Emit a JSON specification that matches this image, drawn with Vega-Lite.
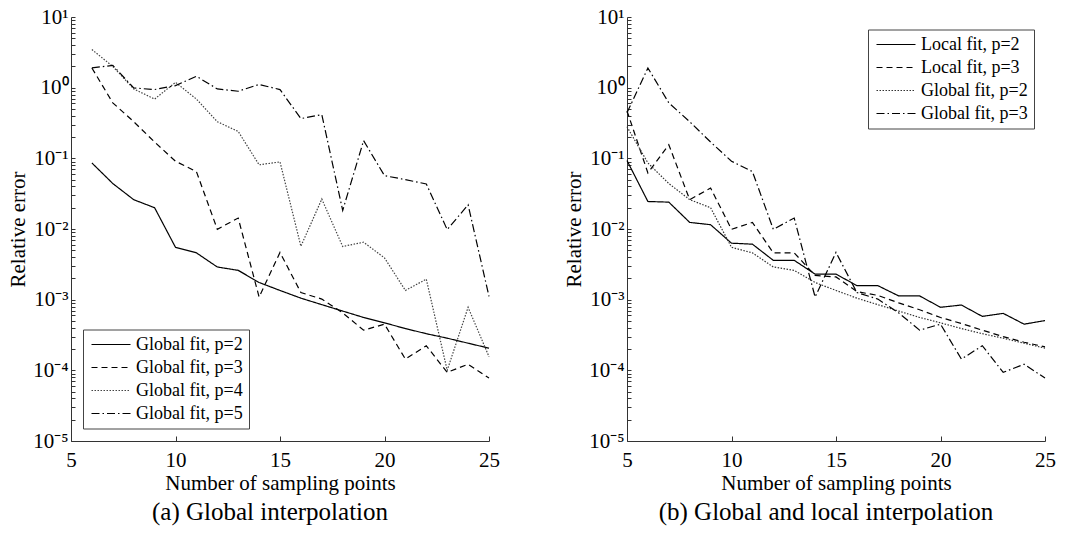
{
  "$schema": "https://vega.github.io/schema/vega-lite/v6.json",
  "background": "white",
  "padding": {"left": 7, "top": 6, "right": 5, "bottom": 5},
  "bounds": "flush",
  "spacing": 138,
  "datasets": {
    "a": [
      {"n": 6, "err": 0.086, "s": "Global fit, p=2"},
      {"n": 7, "err": 0.044, "s": "Global fit, p=2"},
      {"n": 8, "err": 0.026, "s": "Global fit, p=2"},
      {"n": 9, "err": 0.020, "s": "Global fit, p=2"},
      {"n": 10, "err": 0.0055, "s": "Global fit, p=2"},
      {"n": 11, "err": 0.0046, "s": "Global fit, p=2"},
      {"n": 12, "err": 0.0029, "s": "Global fit, p=2"},
      {"n": 13, "err": 0.0026, "s": "Global fit, p=2"},
      {"n": 14, "err": 0.00175, "s": "Global fit, p=2"},
      {"n": 15, "err": 0.00135, "s": "Global fit, p=2"},
      {"n": 16, "err": 0.00105, "s": "Global fit, p=2"},
      {"n": 17, "err": 0.00085, "s": "Global fit, p=2"},
      {"n": 18, "err": 0.00069, "s": "Global fit, p=2"},
      {"n": 19, "err": 0.00056, "s": "Global fit, p=2"},
      {"n": 20, "err": 0.00047, "s": "Global fit, p=2"},
      {"n": 21, "err": 0.00039, "s": "Global fit, p=2"},
      {"n": 22, "err": 0.00033, "s": "Global fit, p=2"},
      {"n": 23, "err": 0.000285, "s": "Global fit, p=2"},
      {"n": 24, "err": 0.000242, "s": "Global fit, p=2"},
      {"n": 25, "err": 0.000206, "s": "Global fit, p=2"},
      {"n": 6, "err": 1.9, "s": "Global fit, p=3"},
      {"n": 7, "err": 0.61, "s": "Global fit, p=3"},
      {"n": 8, "err": 0.33, "s": "Global fit, p=3"},
      {"n": 9, "err": 0.17, "s": "Global fit, p=3"},
      {"n": 10, "err": 0.091, "s": "Global fit, p=3"},
      {"n": 11, "err": 0.065, "s": "Global fit, p=3"},
      {"n": 12, "err": 0.0099, "s": "Global fit, p=3"},
      {"n": 13, "err": 0.0143, "s": "Global fit, p=3"},
      {"n": 14, "err": 0.00109, "s": "Global fit, p=3"},
      {"n": 15, "err": 0.00466, "s": "Global fit, p=3"},
      {"n": 16, "err": 0.00126, "s": "Global fit, p=3"},
      {"n": 17, "err": 0.00102, "s": "Global fit, p=3"},
      {"n": 18, "err": 0.00065, "s": "Global fit, p=3"},
      {"n": 19, "err": 0.00037, "s": "Global fit, p=3"},
      {"n": 20, "err": 0.00045, "s": "Global fit, p=3"},
      {"n": 21, "err": 0.000144, "s": "Global fit, p=3"},
      {"n": 22, "err": 0.000223, "s": "Global fit, p=3"},
      {"n": 23, "err": 0.0000935, "s": "Global fit, p=3"},
      {"n": 24, "err": 0.000122, "s": "Global fit, p=3"},
      {"n": 25, "err": 0.0000776, "s": "Global fit, p=3"},
      {"n": 6, "err": 3.46, "s": "Global fit, p=4"},
      {"n": 7, "err": 2.0, "s": "Global fit, p=4"},
      {"n": 8, "err": 0.96, "s": "Global fit, p=4"},
      {"n": 9, "err": 0.69, "s": "Global fit, p=4"},
      {"n": 10, "err": 1.19, "s": "Global fit, p=4"},
      {"n": 11, "err": 0.69, "s": "Global fit, p=4"},
      {"n": 12, "err": 0.33, "s": "Global fit, p=4"},
      {"n": 13, "err": 0.24, "s": "Global fit, p=4"},
      {"n": 14, "err": 0.081, "s": "Global fit, p=4"},
      {"n": 15, "err": 0.089, "s": "Global fit, p=4"},
      {"n": 16, "err": 0.0057, "s": "Global fit, p=4"},
      {"n": 17, "err": 0.0265, "s": "Global fit, p=4"},
      {"n": 18, "err": 0.00566, "s": "Global fit, p=4"},
      {"n": 19, "err": 0.0065, "s": "Global fit, p=4"},
      {"n": 20, "err": 0.0039, "s": "Global fit, p=4"},
      {"n": 21, "err": 0.00135, "s": "Global fit, p=4"},
      {"n": 22, "err": 0.00195, "s": "Global fit, p=4"},
      {"n": 23, "err": 0.0001, "s": "Global fit, p=4"},
      {"n": 24, "err": 0.00078, "s": "Global fit, p=4"},
      {"n": 25, "err": 0.000156, "s": "Global fit, p=4"},
      {"n": 6, "err": 1.9, "s": "Global fit, p=5"},
      {"n": 7, "err": 2.07, "s": "Global fit, p=5"},
      {"n": 8, "err": 0.99, "s": "Global fit, p=5"},
      {"n": 9, "err": 0.94, "s": "Global fit, p=5"},
      {"n": 10, "err": 1.07, "s": "Global fit, p=5"},
      {"n": 11, "err": 1.45, "s": "Global fit, p=5"},
      {"n": 12, "err": 0.96, "s": "Global fit, p=5"},
      {"n": 13, "err": 0.89, "s": "Global fit, p=5"},
      {"n": 14, "err": 1.11, "s": "Global fit, p=5"},
      {"n": 15, "err": 0.94, "s": "Global fit, p=5"},
      {"n": 16, "err": 0.365, "s": "Global fit, p=5"},
      {"n": 17, "err": 0.416, "s": "Global fit, p=5"},
      {"n": 18, "err": 0.0183, "s": "Global fit, p=5"},
      {"n": 19, "err": 0.178, "s": "Global fit, p=5"},
      {"n": 20, "err": 0.0568, "s": "Global fit, p=5"},
      {"n": 21, "err": 0.050, "s": "Global fit, p=5"},
      {"n": 22, "err": 0.0434, "s": "Global fit, p=5"},
      {"n": 23, "err": 0.0098, "s": "Global fit, p=5"},
      {"n": 24, "err": 0.022, "s": "Global fit, p=5"},
      {"n": 25, "err": 0.00111, "s": "Global fit, p=5"}
    ],
    "b": [
      {"n": 5, "err": 0.093, "s": "Local fit, p=2"},
      {"n": 6, "err": 0.0245, "s": "Local fit, p=2"},
      {"n": 7, "err": 0.024, "s": "Local fit, p=2"},
      {"n": 8, "err": 0.0124, "s": "Local fit, p=2"},
      {"n": 9, "err": 0.0115, "s": "Local fit, p=2"},
      {"n": 10, "err": 0.0063, "s": "Local fit, p=2"},
      {"n": 11, "err": 0.0061, "s": "Local fit, p=2"},
      {"n": 12, "err": 0.0036, "s": "Local fit, p=2"},
      {"n": 13, "err": 0.0036, "s": "Local fit, p=2"},
      {"n": 14, "err": 0.0023, "s": "Local fit, p=2"},
      {"n": 15, "err": 0.0023, "s": "Local fit, p=2"},
      {"n": 16, "err": 0.00158, "s": "Local fit, p=2"},
      {"n": 17, "err": 0.00158, "s": "Local fit, p=2"},
      {"n": 18, "err": 0.00113, "s": "Local fit, p=2"},
      {"n": 19, "err": 0.00113, "s": "Local fit, p=2"},
      {"n": 20, "err": 0.00078, "s": "Local fit, p=2"},
      {"n": 21, "err": 0.00084, "s": "Local fit, p=2"},
      {"n": 22, "err": 0.00058, "s": "Local fit, p=2"},
      {"n": 23, "err": 0.00064, "s": "Local fit, p=2"},
      {"n": 24, "err": 0.00045, "s": "Local fit, p=2"},
      {"n": 25, "err": 0.000506, "s": "Local fit, p=2"},
      {"n": 5, "err": 0.47, "s": "Local fit, p=3"},
      {"n": 6, "err": 0.062, "s": "Local fit, p=3"},
      {"n": 7, "err": 0.156, "s": "Local fit, p=3"},
      {"n": 8, "err": 0.026, "s": "Local fit, p=3"},
      {"n": 9, "err": 0.038, "s": "Local fit, p=3"},
      {"n": 10, "err": 0.0099, "s": "Local fit, p=3"},
      {"n": 11, "err": 0.0124, "s": "Local fit, p=3"},
      {"n": 12, "err": 0.0046, "s": "Local fit, p=3"},
      {"n": 13, "err": 0.0046, "s": "Local fit, p=3"},
      {"n": 14, "err": 0.0022, "s": "Local fit, p=3"},
      {"n": 15, "err": 0.0021, "s": "Local fit, p=3"},
      {"n": 16, "err": 0.0013, "s": "Local fit, p=3"},
      {"n": 17, "err": 0.00115, "s": "Local fit, p=3"},
      {"n": 18, "err": 0.0009, "s": "Local fit, p=3"},
      {"n": 19, "err": 0.00072, "s": "Local fit, p=3"},
      {"n": 20, "err": 0.00056, "s": "Local fit, p=3"},
      {"n": 21, "err": 0.00046, "s": "Local fit, p=3"},
      {"n": 22, "err": 0.00037, "s": "Local fit, p=3"},
      {"n": 23, "err": 0.0003, "s": "Local fit, p=3"},
      {"n": 24, "err": 0.00025, "s": "Local fit, p=3"},
      {"n": 25, "err": 0.000215, "s": "Local fit, p=3"},
      {"n": 5, "err": 0.28, "s": "Global fit, p=2"},
      {"n": 6, "err": 0.086, "s": "Global fit, p=2"},
      {"n": 7, "err": 0.044, "s": "Global fit, p=2"},
      {"n": 8, "err": 0.026, "s": "Global fit, p=2"},
      {"n": 9, "err": 0.020, "s": "Global fit, p=2"},
      {"n": 10, "err": 0.0055, "s": "Global fit, p=2"},
      {"n": 11, "err": 0.0046, "s": "Global fit, p=2"},
      {"n": 12, "err": 0.0029, "s": "Global fit, p=2"},
      {"n": 13, "err": 0.0026, "s": "Global fit, p=2"},
      {"n": 14, "err": 0.00175, "s": "Global fit, p=2"},
      {"n": 15, "err": 0.00135, "s": "Global fit, p=2"},
      {"n": 16, "err": 0.00105, "s": "Global fit, p=2"},
      {"n": 17, "err": 0.00085, "s": "Global fit, p=2"},
      {"n": 18, "err": 0.00069, "s": "Global fit, p=2"},
      {"n": 19, "err": 0.00056, "s": "Global fit, p=2"},
      {"n": 20, "err": 0.00047, "s": "Global fit, p=2"},
      {"n": 21, "err": 0.00039, "s": "Global fit, p=2"},
      {"n": 22, "err": 0.00033, "s": "Global fit, p=2"},
      {"n": 23, "err": 0.000285, "s": "Global fit, p=2"},
      {"n": 24, "err": 0.000242, "s": "Global fit, p=2"},
      {"n": 25, "err": 0.000206, "s": "Global fit, p=2"},
      {"n": 5, "err": 0.44, "s": "Global fit, p=3"},
      {"n": 6, "err": 1.9, "s": "Global fit, p=3"},
      {"n": 7, "err": 0.61, "s": "Global fit, p=3"},
      {"n": 8, "err": 0.33, "s": "Global fit, p=3"},
      {"n": 9, "err": 0.17, "s": "Global fit, p=3"},
      {"n": 10, "err": 0.091, "s": "Global fit, p=3"},
      {"n": 11, "err": 0.065, "s": "Global fit, p=3"},
      {"n": 12, "err": 0.0099, "s": "Global fit, p=3"},
      {"n": 13, "err": 0.0143, "s": "Global fit, p=3"},
      {"n": 14, "err": 0.00109, "s": "Global fit, p=3"},
      {"n": 15, "err": 0.00466, "s": "Global fit, p=3"},
      {"n": 16, "err": 0.00126, "s": "Global fit, p=3"},
      {"n": 17, "err": 0.00102, "s": "Global fit, p=3"},
      {"n": 18, "err": 0.00065, "s": "Global fit, p=3"},
      {"n": 19, "err": 0.00037, "s": "Global fit, p=3"},
      {"n": 20, "err": 0.00045, "s": "Global fit, p=3"},
      {"n": 21, "err": 0.000144, "s": "Global fit, p=3"},
      {"n": 22, "err": 0.000223, "s": "Global fit, p=3"},
      {"n": 23, "err": 0.0000935, "s": "Global fit, p=3"},
      {"n": 24, "err": 0.000122, "s": "Global fit, p=3"},
      {"n": 25, "err": 0.0000776, "s": "Global fit, p=3"}
    ]
  },
  "hconcat": [
    {
      "width": 418,
      "height": 424,
      "data": {"name": "a"},
      "title": {"text": "(a) Global interpolation", "orient": "bottom", "frame": "group", "anchor": "middle", "dx": -10, "offset": 7, "font": "Liberation Serif", "fontSize": 25, "fontWeight": "normal", "color": "#000"},
      "mark": {"type": "line", "strokeWidth": 1.2},
      "encoding": {
        "x": {"field": "n", "type": "quantitative", "scale": {"domain": [5, 25], "nice": false, "zero": false},
          "axis": {"values": [5, 10, 15, 20, 25], "title": "Number of sampling points"}},
        "y": {"field": "err", "type": "quantitative", "scale": {"type": "log", "domain": [0.00001, 10], "nice": false},
          "axis": {"title": "Relative error"}},
        "strokeDash": {"field": "s", "type": "nominal",
          "scale": {"domain": ["Global fit, p=2", "Global fit, p=3", "Global fit, p=4", "Global fit, p=5"], "range": [[1, 0], [6, 4], [1.5, 1.5], [8, 3, 1.5, 3]]},
          "legend": {"orient": "none", "legendX": 12, "legendY": 312.5, "title": null}},
        "color": {"field": "s", "type": "nominal",
          "scale": {"domain": ["Global fit, p=2", "Global fit, p=3", "Global fit, p=4", "Global fit, p=5"], "range": ["#000000", "#000000", "#444444", "#000000"]},
          "legend": {"orient": "none", "legendX": 12, "legendY": 312.5, "title": null}},
        "detail": {"field": "s"}
      }
    },
    {
      "width": 418,
      "height": 424,
      "data": {"name": "b"},
      "title": {"text": "(b) Global and local interpolation", "orient": "bottom", "frame": "group", "anchor": "middle", "dx": -10, "offset": 7, "font": "Liberation Serif", "fontSize": 25, "fontWeight": "normal", "color": "#000"},
      "mark": {"type": "line", "strokeWidth": 1.2},
      "encoding": {
        "x": {"field": "n", "type": "quantitative", "scale": {"domain": [5, 25], "nice": false, "zero": false},
          "axis": {"values": [5, 10, 15, 20, 25], "title": "Number of sampling points"}},
        "y": {"field": "err", "type": "quantitative", "scale": {"type": "log", "domain": [0.00001, 10], "nice": false},
          "axis": {"title": "Relative error"}},
        "strokeDash": {"field": "s", "type": "nominal",
          "scale": {"domain": ["Local fit, p=2", "Local fit, p=3", "Global fit, p=2", "Global fit, p=3"], "range": [[1, 0], [6, 4], [1.5, 1.5], [8, 3, 1.5, 3]]},
          "legend": {"orient": "none", "legendX": 241, "legendY": 12.5, "title": null}},
        "color": {"field": "s", "type": "nominal",
          "scale": {"domain": ["Local fit, p=2", "Local fit, p=3", "Global fit, p=2", "Global fit, p=3"], "range": ["#000000", "#000000", "#333333", "#000000"]},
          "legend": {"orient": "none", "legendX": 241, "legendY": 12.5, "title": null}},
        "detail": {"field": "s"}
      }
    }
  ],
  "resolve": {
    "scale": {"strokeDash": "independent", "color": "independent", "x": "independent", "y": "independent"},
    "legend": {"strokeDash": "independent", "color": "independent"}
  },
  "config": {
    "view": {"stroke": null},
    "font": "Liberation Serif",
    "axis": {
      "labelFont": "Liberation Serif", "titleFont": "Liberation Serif",
      "labelFontSize": 21, "titleFontSize": 21, "titleFontWeight": "normal",
      "labelColor": "#000000", "titleColor": "#000000",
      "domainColor": "#333333", "tickColor": "#333333", "domainWidth": 1, "tickWidth": 1,
      "grid": false, "labelFlush": false, "labelOverlap": false
    },
    "axisX": {"tickSize": -5, "labelPadding": 13, "titlePadding": 2},
    "axisY": {
      "values": [0.00001, 0.00002, 0.00003, 0.00004, 0.00005, 0.00006, 0.00007, 0.00008, 0.00009,
                 0.0001, 0.0002, 0.0003, 0.0004, 0.0005, 0.0006, 0.0007, 0.0008, 0.0009,
                 0.001, 0.002, 0.003, 0.004, 0.005, 0.006, 0.007, 0.008, 0.009,
                 0.01, 0.02, 0.03, 0.04, 0.05, 0.06, 0.07, 0.08, 0.09,
                 0.1, 0.2, 0.3, 0.4, 0.5, 0.6, 0.7, 0.8, 0.9,
                 1, 2, 3, 4, 5, 6, 7, 8, 9, 10],
      "tickSize": -4,
      "labelPadding": 7,
      "titlePadding": 4,
      "labelExpr": "abs(log(datum.value)/LN10 - round(log(datum.value)/LN10)) < 0.01 ? '10' + (round(log(datum.value)/LN10) < 0 ? '⁻' : '') + ['⁰','¹','²','³','⁴','⁵'][abs(round(log(datum.value)/LN10))] : ''"
    },
    "legend": {
      "symbolType": "M-1,0H5",
      "symbolSize": 169,
      "symbolStrokeWidth": 1.2,
      "labelFont": "Liberation Serif",
      "labelFontSize": 18,
      "labelColor": "#000000",
      "labelOffset": 29,
      "labelLimit": 400,
      "rowPadding": 5,
      "padding": 6,
      "strokeColor": "#444444",
      "fillColor": "white",
      "cornerRadius": 0
    }
  }
}
